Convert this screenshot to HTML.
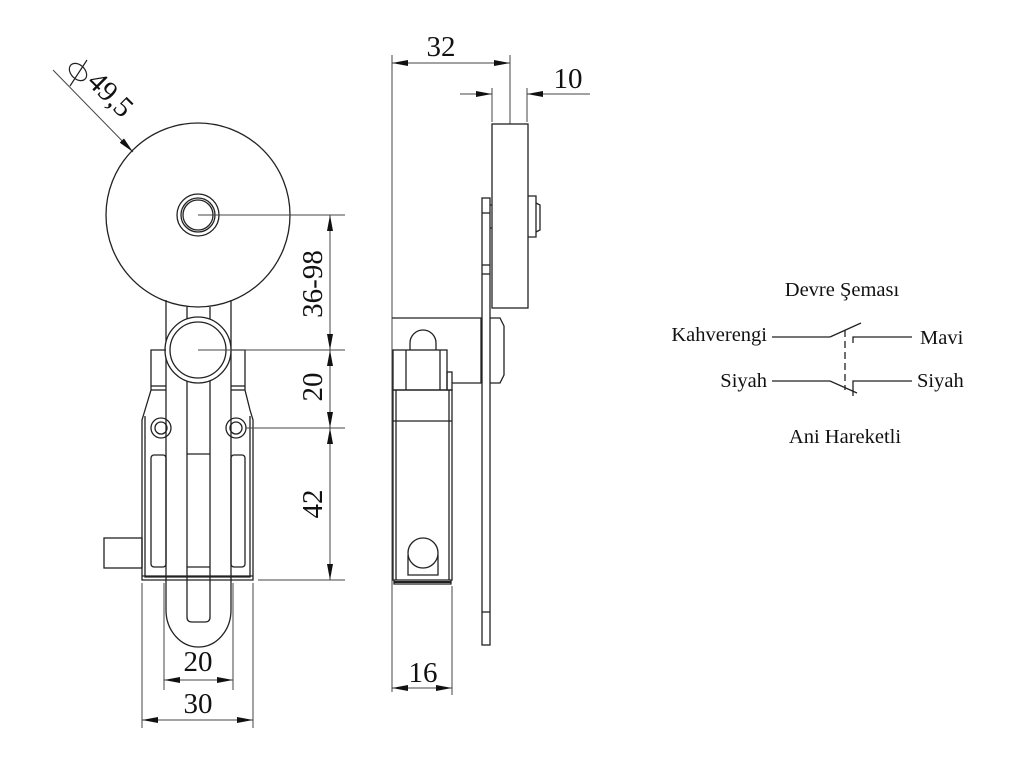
<!DOCTYPE html>
<html><head><meta charset="utf-8"><style>
html,body{margin:0;padding:0;background:#fff;}
svg{display:block}
text{font-family:"Liberation Serif",serif;fill:#111}
</style></head><body>
<svg width="1024" height="768" viewBox="0 0 1024 768" xmlns="http://www.w3.org/2000/svg">
<defs>
<marker id="a" viewBox="0 0 16 6" refX="16" refY="3" markerWidth="16" markerHeight="6" markerUnits="userSpaceOnUse" orient="auto-start-reverse"><path d="M0,0 L16,3 L0,6 Z" fill="#111"/></marker>
</defs>
<g fill="none" stroke="#222" stroke-width="1.3">
<circle cx="198" cy="215" r="92"/>
<circle cx="198" cy="215" r="21"/>
<circle cx="198" cy="215" r="17"/>
<circle cx="198" cy="215" r="15"/>
<path d="M166,300 L166,610 A32.5,37 0 0 0 231,610 L231,300"/>
<path d="M187,307 L187,320 M210,307 L210,320"/>
<path d="M187,380 L187,617 Q187,622 192,622 L205,622 Q210,622 210,617 L210,380"/>
<line x1="187" y1="454" x2="210" y2="454"/>
<line x1="187" y1="567" x2="210" y2="567"/>
<circle cx="198" cy="350" r="33" fill="#fff"/>
<circle cx="198" cy="350" r="28"/>
<path d="M166,350 L151,350 L151,390 L145,410 L142,420 L142,580 L253,580 L253,420 L250,410 L245,390 L245,350 L231,350"/>
<line x1="151" y1="390" x2="166" y2="390"/><line x1="231" y1="390" x2="245" y2="390"/>
<line x1="151" y1="386" x2="166" y2="386"/><line x1="231" y1="386" x2="245" y2="386"/>
<path d="M145,416 L145,577 L250,577 L250,416"/>
<line x1="142" y1="576" x2="253" y2="576"/>
<circle cx="161" cy="428" r="10"/><circle cx="161" cy="428" r="6"/>
<circle cx="236" cy="428" r="10"/><circle cx="236" cy="428" r="6"/>
<rect x="151" y="455" width="15" height="112" rx="3"/>
<rect x="231" y="455" width="14" height="112" rx="3"/>
<rect x="104" y="538" width="38" height="30"/>
</g>
<g fill="none" stroke="#444" stroke-width="1">
<line x1="198" y1="215" x2="345" y2="215"/>
<line x1="198" y1="350" x2="345" y2="350"/>
<line x1="246" y1="428" x2="345" y2="428"/>
<line x1="258" y1="580" x2="345" y2="580"/>
<line x1="330" y1="215" x2="330" y2="350" marker-start="url(#a)" marker-end="url(#a)"/>
<line x1="330" y1="350" x2="330" y2="428" marker-start="url(#a)" marker-end="url(#a)"/>
<line x1="330" y1="428" x2="330" y2="580" marker-start="url(#a)" marker-end="url(#a)"/>
<line x1="164" y1="583" x2="164" y2="690"/>
<line x1="233" y1="583" x2="233" y2="690"/>
<line x1="142" y1="583" x2="142" y2="728"/>
<line x1="253" y1="583" x2="253" y2="728"/>
<line x1="164" y1="680" x2="233" y2="680" marker-start="url(#a)" marker-end="url(#a)"/>
<line x1="142" y1="720" x2="253" y2="720" marker-start="url(#a)" marker-end="url(#a)"/>
<line x1="53" y1="70" x2="133" y2="152" marker-end="url(#a)"/>
<line x1="392" y1="55" x2="392" y2="692"/>
<line x1="392" y1="63" x2="510" y2="63" marker-start="url(#a)" marker-end="url(#a)"/>
<line x1="510" y1="55" x2="510" y2="124"/>
<line x1="492" y1="88" x2="492" y2="122"/>
<line x1="527" y1="88" x2="527" y2="122"/>
<line x1="460" y1="94" x2="492" y2="94" marker-end="url(#a)"/>
<line x1="590" y1="94" x2="527" y2="94" marker-end="url(#a)"/>
<line x1="452" y1="586" x2="452" y2="695"/>
<line x1="392" y1="688" x2="452" y2="688" marker-start="url(#a)" marker-end="url(#a)"/>
</g>
<g fill="none" stroke="#222" stroke-width="1.3">
<rect x="492" y="124" width="36" height="184"/>
<path d="M528,196 L536,196 L536,237 L528,237 M536,203 L540,205 L540,230 L536,232"/>
<rect x="482" y="198" width="8" height="447"/>
<line x1="482" y1="213" x2="490" y2="213"/>
<line x1="482" y1="265" x2="490" y2="265"/>
<line x1="482" y1="274" x2="490" y2="274"/>
<line x1="482" y1="612" x2="490" y2="612"/>
<path d="M490,205 L492,205 M490,228 L492,228"/>
<path d="M490,318 L500,318 L504,326 L504,375 L500,383 L490,383"/>
<path d="M392,318 L481,318 L481,383 L452,383"/>
<rect x="393" y="350" width="54" height="40"/>
<line x1="406" y1="350" x2="406" y2="390"/><line x1="440" y1="350" x2="440" y2="390"/>
<path d="M410,350 L410,343 A13,13 0 0 1 436,343 L436,350"/>
<rect x="447" y="372" width="5" height="18"/>
<rect x="393" y="390" width="59" height="190"/>
<line x1="393" y1="421" x2="452" y2="421"/>
<line x1="396" y1="390" x2="396" y2="580"/><line x1="449" y1="390" x2="449" y2="580"/>
<path d="M394,580 L394,584 L451,584 L451,580"/>
<line x1="394" y1="582" x2="451" y2="582" stroke-width="2"/>
<circle cx="423" cy="553" r="15"/>
<path d="M408,555 L408,575 L438,575 L438,555"/>
<line x1="772" y1="337" x2="830" y2="337"/>
<line x1="830" y1="337" x2="861" y2="323"/>
<path d="M853,343 L853,337 L912,337"/>
<line x1="772" y1="381" x2="830" y2="381"/>
<line x1="830" y1="381" x2="857" y2="393"/>
<path d="M853,396 L853,381 L912,381"/>
<line x1="845" y1="330" x2="845" y2="390" stroke-dasharray="7,4"/>
</g>
<g font-size="29">
<text x="441" y="56" text-anchor="middle">32</text>
<text x="568" y="88" text-anchor="middle">10</text>
<text x="423" y="682" text-anchor="middle">16</text>
<text x="198" y="671" text-anchor="middle">20</text>
<text x="198" y="713" text-anchor="middle">30</text>
<text transform="translate(322,387) rotate(-90)" text-anchor="middle">20</text>
<text transform="translate(322,504) rotate(-90)" text-anchor="middle">42</text>
<text transform="translate(322,284) rotate(-90)" text-anchor="middle">36-98</text>
<text transform="translate(86,83) rotate(45)">49,5</text>
</g>
<g fill="none" stroke="#222" stroke-width="1.2">
<ellipse cx="78" cy="72" rx="10" ry="7" transform="rotate(45 78 72)"/>
<line x1="70" y1="86" x2="87" y2="60"/>
</g>
<g font-size="20.5">
<text x="842" y="296" text-anchor="middle">Devre Şeması</text>
<text x="767" y="341" text-anchor="end">Kahverengi</text>
<text x="920" y="344">Mavi</text>
<text x="767" y="387" text-anchor="end">Siyah</text>
<text x="917" y="387">Siyah</text>
<text x="845" y="443" text-anchor="middle">Ani Hareketli</text>
</g>
</svg>
</body></html>
